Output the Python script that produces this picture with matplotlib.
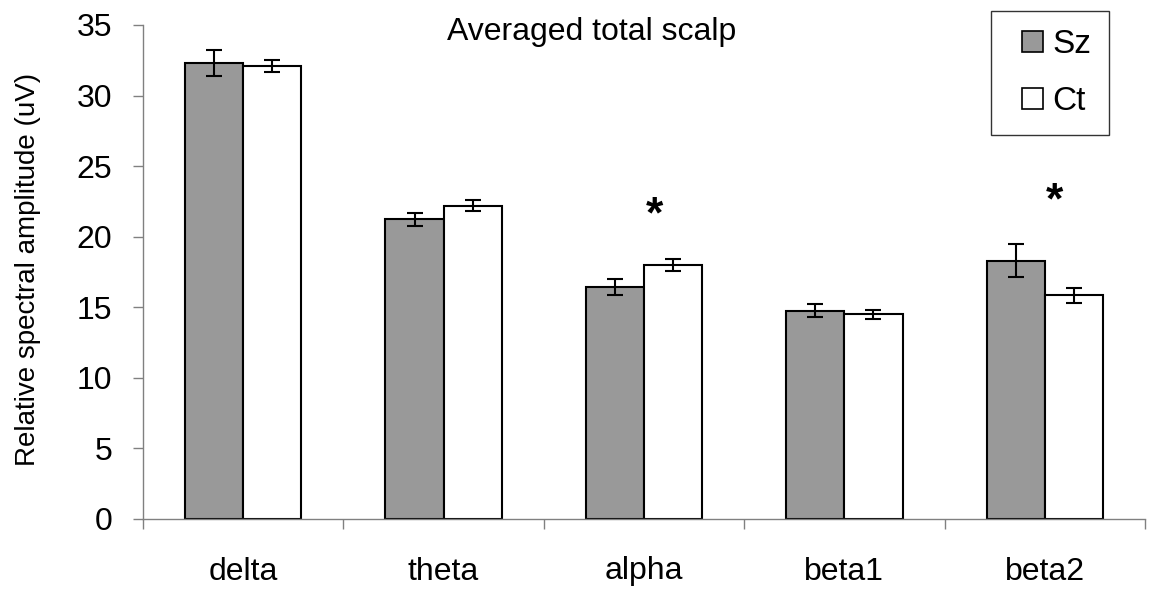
import matplotlib
matplotlib.use("Agg")
import matplotlib.pyplot as plt
import numpy as np
from matplotlib.patches import Patch, Rectangle
from matplotlib.legend_handler import HandlerPatch

plt.rcParams['font.family'] = ['Liberation Sans', 'DejaVu Sans']

categories = ['delta', 'theta', 'alpha', 'beta1', 'beta2']
sz = [32.3, 21.25, 16.45, 14.75, 18.3]
sz_err = [0.9, 0.46, 0.55, 0.46, 1.15]
ct = [32.1, 22.2, 18.0, 14.5, 15.85]
ct_err = [0.45, 0.4, 0.4, 0.3, 0.55]
star_cats = ['alpha', 'beta2']
star_y = [21.5, 22.5]

fig = plt.figure(figsize=(11.5, 5.9), dpi=100)
ax = fig.add_axes([143/1150, 71/590, 1002/1150, 494/590])

x = np.arange(len(categories)) + 0.5
w = 0.29
eb = dict(ecolor='black', elinewidth=1.5, capsize=6, capthick=1.5)
ax.bar(x - w/2, sz, w, color='#999999', edgecolor='black', linewidth=1.5,
       yerr=sz_err, error_kw=eb, zorder=2)
ax.bar(x + w/2, ct, w, color='white', edgecolor='black', linewidth=1.5,
       yerr=ct_err, error_kw=eb, zorder=2)

for c, yv in zip(star_cats, star_y):
    i = categories.index(c)
    ax.text(x[i] + 0.05, yv, '*', ha='center', va='center', fontsize=32,
            fontweight='bold')

ax.set_xlim(0, len(categories))
ax.set_ylim(0, 35)
ax.set_yticks(np.arange(0, 36, 5))
ax.set_xticks(np.arange(0, len(categories) + 1))
ax.set_xticklabels([])
ax.set_xticks(x, minor=True)
ax.set_xticklabels(categories, minor=True)
ax.tick_params(axis='x', which='minor', length=0, pad=27, labelsize=23)
ax.tick_params(axis='x', which='major', length=7, width=1, color='#808080')
ax.tick_params(axis='y', length=7, width=1, color='#808080', pad=15, labelsize=23)

for s in ['top', 'right']:
    ax.spines[s].set_visible(False)
for s in ['left', 'bottom']:
    ax.spines[s].set_color('#808080')
    ax.spines[s].set_linewidth(1)

fig.text(592/1150, 1 - 32/590, 'Averaged total scalp', ha='center', va='center',
         fontsize=23)
fig.text(28/1150, 1 - 269/590, 'Relative spectral amplitude (uV)', rotation=90,
         ha='center', va='center', fontsize=20)


def square_patch(legend, orig_handle, xdescent, ydescent, width, height, fontsize):
    return Rectangle((-xdescent + width - height, -ydescent), height, height)


handles = [Patch(facecolor='#999999', edgecolor='black', linewidth=1.2, label='Sz'),
           Patch(facecolor='white', edgecolor='black', linewidth=1.2, label='Ct')]
leg = fig.legend(handles=handles, loc='upper left',
                 bbox_to_anchor=(991/1150, 1 - 11/590), fontsize=24,
                 handlelength=1.02, handleheight=0.6, handletextpad=0.27,
                 labelspacing=0.78, borderpad=0.54, frameon=True, fancybox=False,
                 borderaxespad=0,
                 handler_map={Patch: HandlerPatch(patch_func=square_patch)})
leg.get_frame().set_edgecolor('black')
leg.get_frame().set_linewidth(1)

fig.savefig('out.png', dpi=100)
